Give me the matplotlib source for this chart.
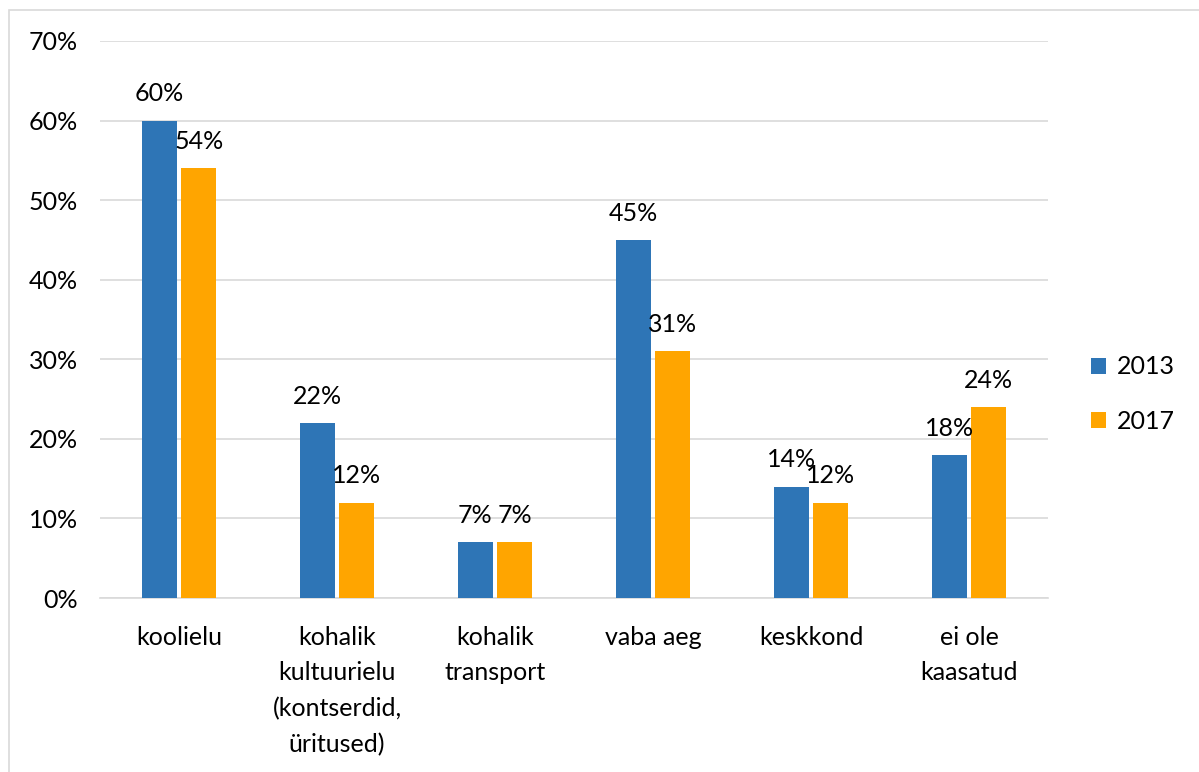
import numpy as np
import matplotlib
matplotlib.use("Agg")
import matplotlib.pyplot as plt
from matplotlib.patches import Rectangle

# data
categories = ["koolielu", "kohalik\nkultuurielu\n(kontserdid,\nüritused)", "kohalik\ntransport",
              "vaba aeg", "keskkond", "ei ole\nkaasatud"]
values_2013 = [60, 22, 7, 45, 14, 18]
values_2017 = [54, 12, 7, 31, 12, 24]
series_names = ["2013", "2017"]

blue = "#2E75B6"
orange = "#FFA500"

plt.rcParams['font.family'] = ['Lato', 'DejaVu Sans']
fs = 18

fig = plt.figure(figsize=(11.99, 7.72), dpi=100)
ax = fig.add_axes([100 / 1199, 1 - 598 / 772, 948 / 1199, 557 / 772])

x = np.arange(len(categories))
w = 0.22
b1 = ax.bar(x - 0.125, values_2013, w, color=blue, label=series_names[0], zorder=3)
b2 = ax.bar(x + 0.125, values_2017, w, color=orange, label=series_names[1], zorder=3)

for bars in (b1, b2):
    for rect in bars:
        h = rect.get_height()
        ax.text(rect.get_x() + rect.get_width() / 2, h + 1.9, f"{h:.0f}%",
                ha="center", va="bottom", fontsize=fs)

ax.set_xlim(-0.5, len(categories) - 0.5)
ax.set_ylim(0, 70)
ax.set_yticks(range(0, 71, 10))
ax.set_yticklabels([f"{v}%" for v in range(0, 71, 10)], fontsize=fs)
ax.set_xticks(x)
ax.set_xticklabels(categories, fontsize=fs, linespacing=1.65, va="top")
ax.tick_params(axis="both", length=0)
ax.tick_params(axis="x", pad=20)
ax.tick_params(axis="y", pad=16)
ax.yaxis.grid(True, color="#D9D9D9", linewidth=1.2, zorder=0)
for side in ("top", "right", "left"):
    ax.spines[side].set_visible(False)
ax.spines["bottom"].set_color("#D9D9D9")
ax.spines["bottom"].set_linewidth(1.2)

fig.legend(handles=[b1, b2], loc="center left", bbox_to_anchor=(1068 / 1199, 1 - 394 / 772),
           frameon=False, fontsize=fs, handlelength=0.6, handleheight=0.6,
           labelspacing=1.25, handletextpad=0.45)

fig.patches.append(Rectangle((9 / 1199, -0.05), 1.1, 1.05 - 10 / 772,
                             transform=fig.transFigure, fill=False,
                             edgecolor="#D9D9D9", linewidth=1.2))

fig.savefig("out.png", dpi=100)
